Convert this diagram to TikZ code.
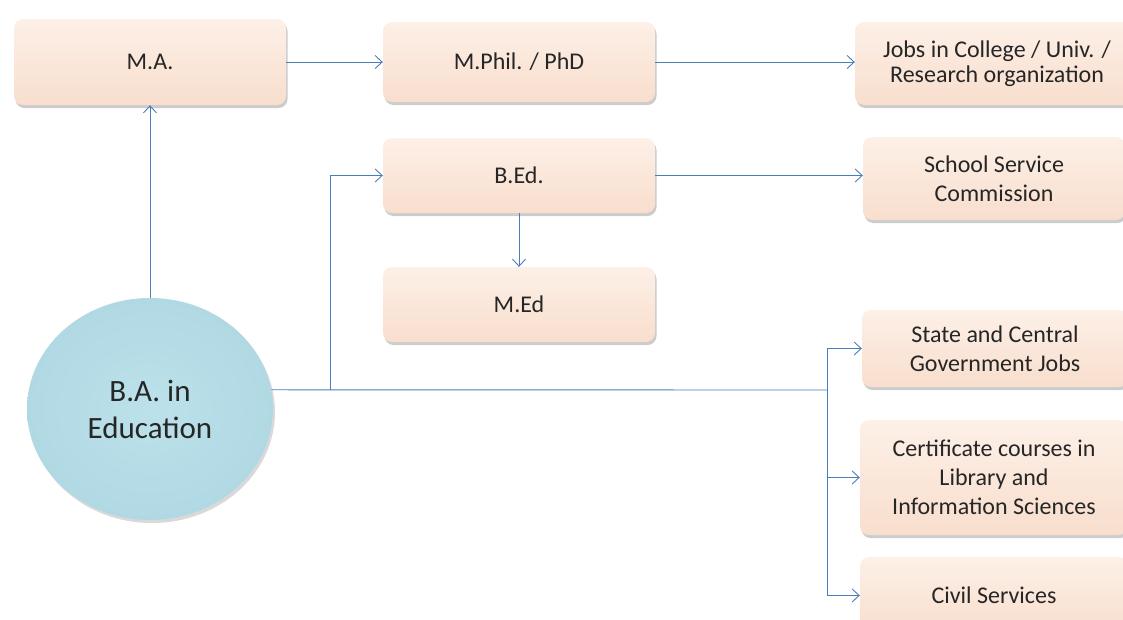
\documentclass[tikz,border=0pt]{standalone}
\usepackage{fontspec}
\setmainfont{Carlito}
\usetikzlibrary{arrows.meta,shapes.geometric,shadows}
\definecolor{lnc}{HTML}{4A7EBB}
\definecolor{pchT}{HTML}{FDF0E7}
\definecolor{pchM}{HTML}{FCE8DB}
\definecolor{pchB}{HTML}{F8DECD}
\definecolor{bluI}{HTML}{BCE1EA}
\definecolor{bluO}{HTML}{B1D9E4}
\definecolor{txt}{HTML}{262626}
\begin{document}
\begin{tikzpicture}[x=1pt,y=-1pt,
  box/.style={rectangle, rounded corners=9pt, shading=axis, top color=pchT, middle color=pchM, bottom color=pchB,
    drop shadow={shadow xshift=1.5pt, shadow yshift=-3pt, fill=black, opacity=.2},
    font=\fontsize{24}{29}\selectfont, text=txt, align=center, inner sep=0pt},
  circ/.style={ellipse, shading=radial, inner color=bluI, outer color=bluO,
    drop shadow={shadow xshift=2pt, shadow yshift=-3pt, fill=black, opacity=.15},
    font=\fontsize{31}{37}\selectfont, text=txt, align=center, inner sep=0pt},
  arr/.style={draw=lnc, line width=0.9pt, -{Straight Barb[length=7pt,width=13pt]}},
  ln/.style={draw=lnc, line width=0.9pt}]
\useasboundingbox (0,0) rectangle (1123,619);
\clip (0,0) rectangle (1123,619);
\fill[white] (0,0) rectangle (1123,619);

\node[box, minimum width=272pt, minimum height=86pt] (ma) at (150,62) {M.A.};
\node[box, minimum width=272pt, minimum height=80pt] (mphil) at (519,62) {M.Phil. / PhD};
\node[box, minimum width=284pt, minimum height=83pt, font=\fontsize{24}{24.5}\selectfont] (jobs) at (997,63.5) {Jobs in College / Univ. /\\Research organization};
\node[box, minimum width=272pt, minimum height=75pt] (bed) at (519,175.5) {B.Ed.};
\node[box, minimum width=272pt, minimum height=75pt] (med) at (519,304.5) {M.Ed};
\node[box, minimum width=262pt, minimum height=83pt] (school) at (994,178.5) {School Service\\Commission};
\node[box, minimum width=266pt, minimum height=77pt] (state) at (995,348.5) {State and Central\\Government Jobs};
\node[box, minimum width=268pt, minimum height=115pt] (cert) at (994,477.5) {Certificate courses in\\Library and\\Information Sciences};
\node[box, minimum width=268pt, minimum height=77pt] (civil) at (994,595.5) {Civil Services};
\node[circ, minimum width=246pt, minimum height=222pt] (ba) at (150,409) {B.A. in\\Education};

\coordinate (j1) at (330,390);
\coordinate (j2) at (827,390);

\draw[arr] (ba.north) -- (ma.south);
\draw[arr] (ma.east) -- (mphil.west);
\draw[arr] (mphil.east) -- (mphil.east -| jobs.west);
\draw[ln] (ba.9) -- (j2);
\draw[arr] (j1) |- (bed.west);
\draw[arr] (bed.east) -- (bed.east -| school.west);
\draw[arr] (bed.south) -- (med.north);
\draw[ln] (j2 |- state.west) -- (j2 |- civil.west);
\draw[arr] (j2 |- state.west) -- (state.west);
\draw[arr] (j2 |- cert.west) -- (cert.west);
\draw[arr] (j2 |- civil.west) -- (civil.west);
\end{tikzpicture}
\end{document}
